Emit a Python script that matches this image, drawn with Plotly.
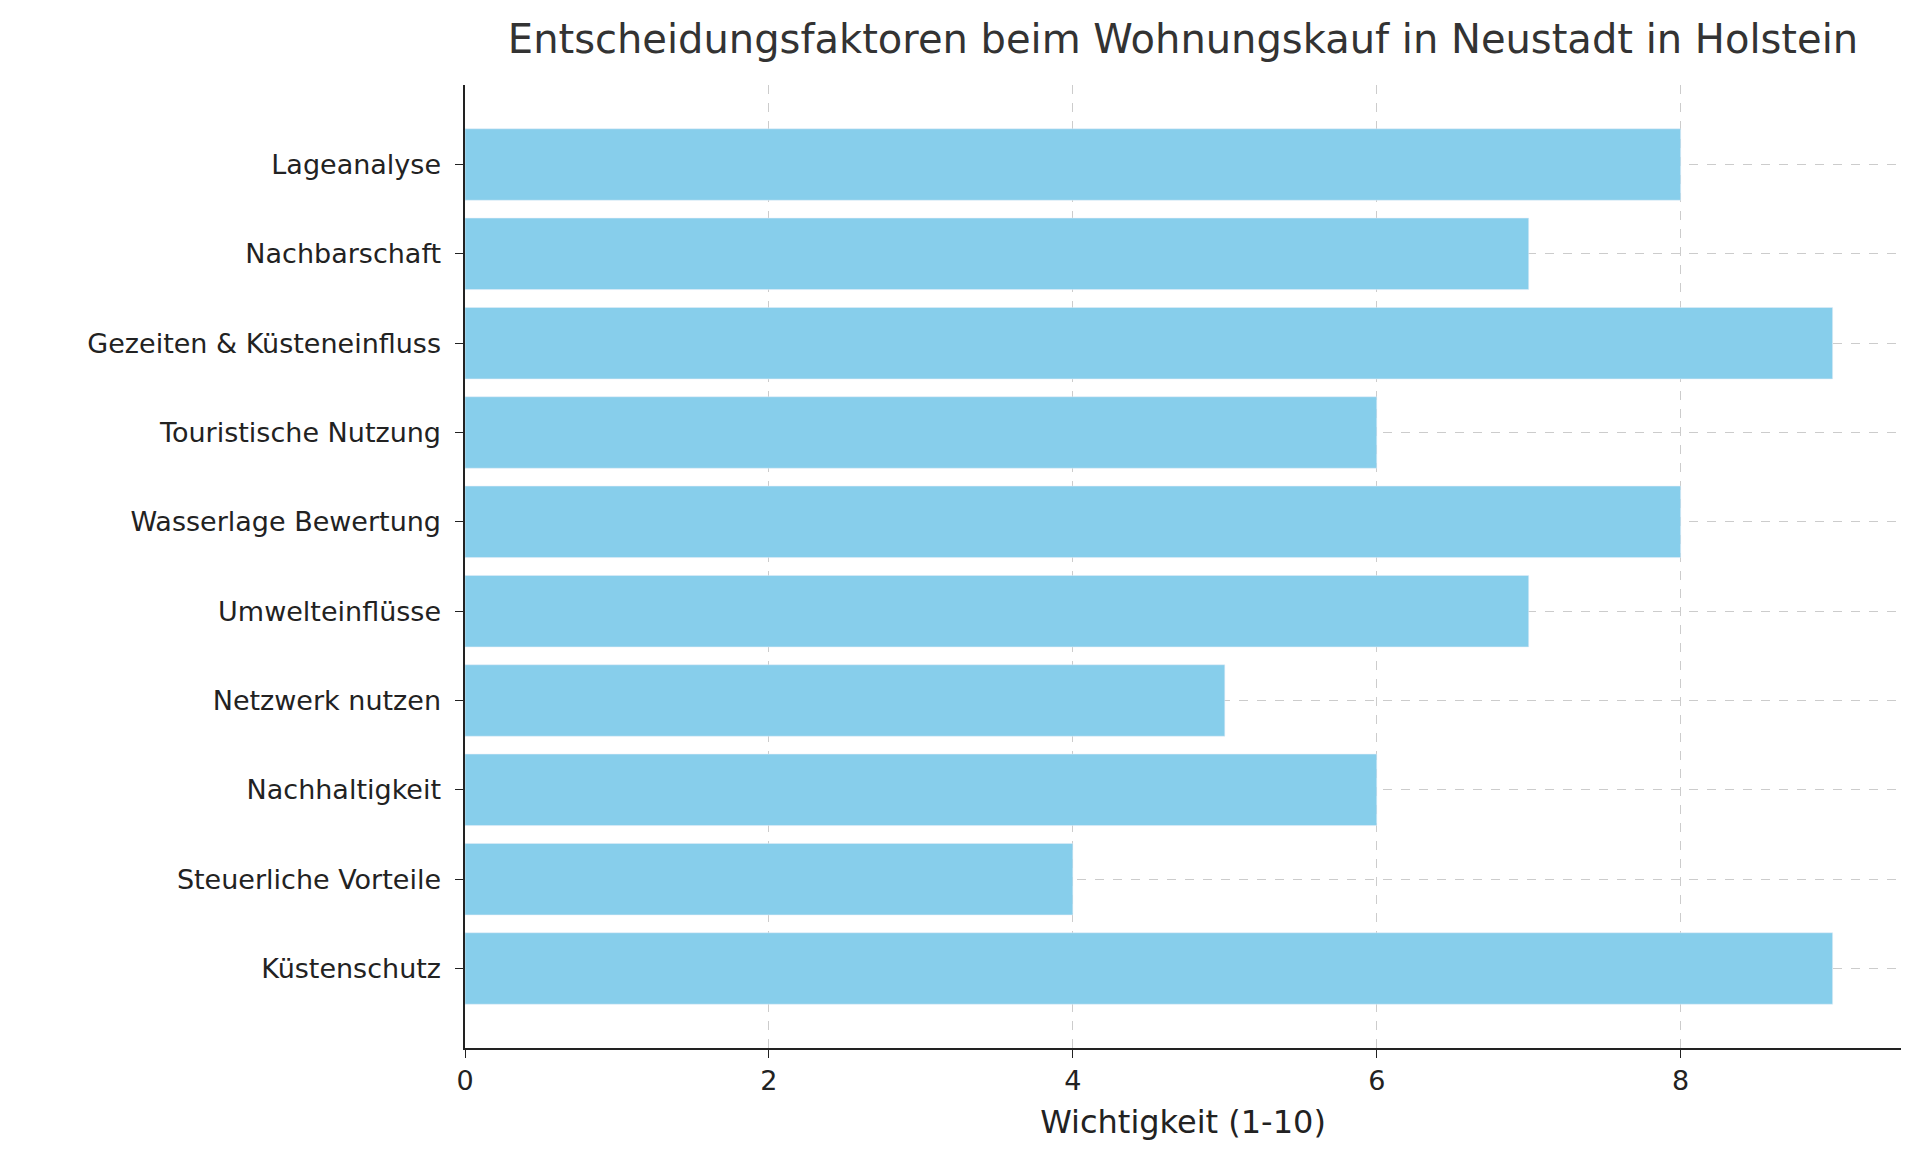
import plotly.graph_objects as go

factors = ["Lageanalyse", "Nachbarschaft", "Gezeiten & Küsteneinfluss", "Touristische Nutzung",
           "Wasserlage Bewertung", "Umwelteinflüsse", "Netzwerk nutzen", "Nachhaltigkeit",
           "Steuerliche Vorteile", "Küstenschutz"]
importance = [8, 7, 9, 6, 8, 7, 5, 6, 4, 9]

fig = go.Figure(go.Bar(x=importance, y=factors, orientation="h",
                       marker_color="#87CEEB", width=0.8))

fig.update_layout(
    width=1920, height=1152,
    paper_bgcolor="white", plot_bgcolor="white",
    font=dict(family="DejaVu Sans", size=27, color="#222"),
    margin=dict(l=457, r=27, t=77, b=112),
    title=dict(text="Entscheidungsfaktoren beim Wohnungskauf in Neustadt in Holstein",
               x=0.5, xref="paper", y=0.985, yanchor="top",
               font=dict(size=40, color="#333")),
    showlegend=False,
)
fig.update_xaxes(range=[0, 9.45], dtick=2, showline=True, linecolor="#222", linewidth=2,
                 ticks="outside", ticklen=8, tickcolor="#222",
                 showgrid=True, gridcolor="#cccccc", griddash="dash", gridwidth=1,
                 zeroline=False, title=dict(text="Wichtigkeit (1-10)", standoff=15))
fig.update_yaxes(range=[9.89, -0.89], showline=True, linecolor="#222", linewidth=2,
                 ticks="outside", ticklen=8, tickcolor="#222",
                 showgrid=True, gridcolor="#cccccc", griddash="dash", gridwidth=1,
                 ticksuffix=" ")
fig.write_html("out.html")
